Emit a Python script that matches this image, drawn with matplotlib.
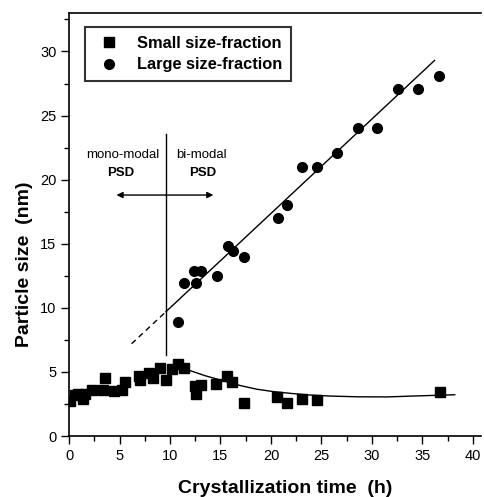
import matplotlib
matplotlib.use("Agg")
import matplotlib.pyplot as plt
from matplotlib.ticker import MultipleLocator

plt.rcParams['font.family'] = ['Liberation Sans', 'DejaVu Sans']

# ---- data ----
small_t = [0.1, 0.6, 0.9, 1.4, 1.6, 2.3, 3.4, 3.6, 4.5, 5.2, 5.5, 6.9, 7.0, 7.9, 8.3,
           9.0, 9.6, 10.2, 10.8, 11.4, 12.5, 12.6, 13.1, 14.6, 15.6, 16.1, 17.3,
           20.6, 21.6, 23.1, 24.6, 36.7]
small_y = [2.75, 3.2, 3.3, 2.9, 3.3, 3.6, 3.6, 4.5, 3.5, 3.6, 4.2, 4.7, 4.4, 4.9, 4.5,
           5.3, 4.4, 5.2, 5.6, 5.3, 3.9, 3.3, 4.0, 4.05, 4.7, 4.2, 2.55,
           3.06, 2.6, 2.9, 2.8, 3.4]

large_t = [10.8, 11.4, 12.4, 13.1, 12.6, 14.65, 15.7, 16.2, 17.3, 20.65, 21.6,
           23.05, 24.6, 26.55, 28.6, 30.55, 32.6, 34.6, 36.6]
large_y = [8.9, 11.9, 12.9, 12.9, 11.9, 12.5, 14.8, 14.4, 14.0, 17.0, 18.0,
           21.0, 21.0, 22.1, 24.05, 24.05, 27.05, 27.05, 28.05]

# fitted trend for the large fraction (dashed extrapolation + solid fit)
fit_dash_t = [6.2, 9.6]
fit_dash_y = [7.2, 9.7]
fit_solid_t = [9.6, 36.2]
fit_solid_y = [9.7, 29.3]

# trend for the small fraction (decay after the maximum)
curve_t = [11.2, 12.0, 13.5, 15.3, 17.0, 18.6, 20.2, 21.9, 23.8, 25.8, 28.5, 31.5, 34.1, 38.2]
curve_y = [5.35, 5.1, 4.7, 4.3, 3.93, 3.65, 3.47, 3.33, 3.2, 3.12, 3.06, 3.05, 3.12, 3.22]

# separator and arrow
sep_t = 9.57
sep_y = [6.3, 23.6]
arrow_y = 18.8
arrow_t = [4.7, 14.3]

fig = plt.figure(figsize=(4.84, 4.97), dpi=100)
ax = fig.add_axes([0.1426, 0.1227, 0.8512, 0.8511])

ax.plot(small_t, small_y, 's', color='black', ms=6.7, label='Small size-fraction', zorder=3)
ax.plot(large_t, large_y, 'o', color='black', ms=7, label='Large size-fraction', zorder=3)

ax.plot(fit_dash_t, fit_dash_y, '--', color='black', lw=1.0, dashes=(4, 3))
ax.plot(fit_solid_t, fit_solid_y, '-', color='black', lw=1.0)
ax.plot(curve_t, curve_y, '-', color='black', lw=1.0)

ax.plot([sep_t, sep_t], sep_y, '-', color='black', lw=1.0)
ax.annotate('', xy=(arrow_t[0], arrow_y), xytext=(sep_t, arrow_y),
            arrowprops=dict(arrowstyle='-|>', color='black', lw=1.0,
                            mutation_scale=9, shrinkA=0, shrinkB=0))
ax.annotate('', xy=(arrow_t[1], arrow_y), xytext=(sep_t, arrow_y),
            arrowprops=dict(arrowstyle='-|>', color='black', lw=1.0,
                            mutation_scale=9, shrinkA=0, shrinkB=0))

ax.text(5.3, 21.9, 'mono-modal', ha='center', va='center', fontsize=9.5)
ax.text(13.1, 21.9, 'bi-modal', ha='center', va='center', fontsize=9.5)
ax.text(5.1, 20.5, 'PSD', ha='center', va='center', fontsize=9.5, fontweight='bold')
ax.text(13.2, 20.5, 'PSD', ha='center', va='center', fontsize=9.5, fontweight='bold')

ax.set_xlim(0, 40.8)
ax.set_ylim(0, 33.0)
ax.xaxis.set_major_locator(MultipleLocator(5))
ax.xaxis.set_minor_locator(MultipleLocator(2.5))
ax.yaxis.set_major_locator(MultipleLocator(5))
ax.yaxis.set_minor_locator(MultipleLocator(2.5))
ax.tick_params(which='major', direction='out', length=6, width=1.0, labelsize=10.5, pad=3)
ax.tick_params(which='minor', direction='out', length=3.5, width=1.0)
ax.spines['right'].set_visible(False)
for s in ['left', 'bottom', 'top']:
    ax.spines[s].set_linewidth(1.2)

ax.set_xlabel('Crystallization time  (h)', fontsize=14, fontweight='bold')
ax.set_ylabel('Particle size  (nm)', fontsize=14, fontweight='bold')
ax.xaxis.set_label_coords(0.524, -0.104)
ax.yaxis.set_label_coords(-0.087, 0.405)

leg = ax.legend(loc='upper left', bbox_to_anchor=(0.0388, 0.9676), borderaxespad=0,
                frameon=True, fancybox=False, prop=dict(size=11.8, weight='bold'),
                handlelength=1.8, handletextpad=0.8, labelspacing=0.4, borderpad=0.55)
leg.get_frame().set_edgecolor('black')
leg.get_frame().set_linewidth(1.5)

fig.savefig('out.png', dpi=100)
